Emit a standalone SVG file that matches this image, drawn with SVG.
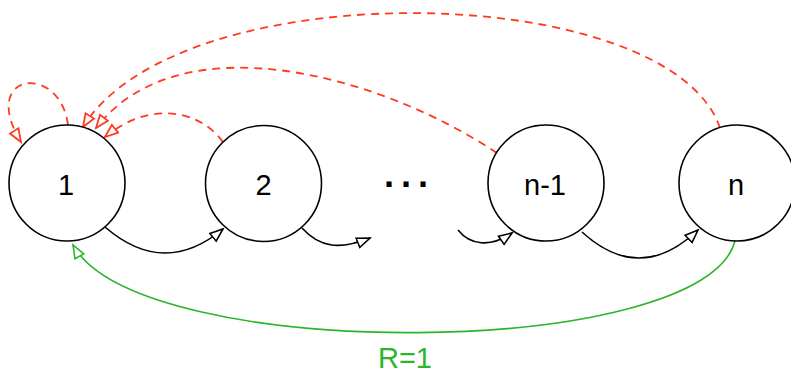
<svg xmlns="http://www.w3.org/2000/svg" width="791" height="374" viewBox="0 0 791 374">
<style>
.node circle{fill:#fff;stroke:#000;stroke-width:1.6}
.node text{font-family:"Liberation Sans",Arial,sans-serif;font-size:29px;fill:#000;text-anchor:middle}
.blk{fill:none;stroke:#000;stroke-width:1.6;marker-end:url(#ab)}
.red{fill:none;stroke:#ff3b1f;stroke-width:1.8;stroke-dasharray:8,6;marker-end:url(#ar)}
.grn{fill:none;stroke:#2cb52c;stroke-width:1.6;marker-end:url(#ag)}
.lbl{font-family:"Liberation Sans",Arial,sans-serif;font-size:29px;fill:#2cb52c;text-anchor:middle}
</style>
<defs>
<marker id="ab" markerUnits="userSpaceOnUse" markerWidth="16" markerHeight="14" refX="14" refY="6" orient="auto" viewBox="0 0 16 12"><path d="M1,1 L14,6 L1,11 Z" fill="#fff" stroke="#000" stroke-width="1.6"/></marker>
<marker id="ar" markerUnits="userSpaceOnUse" markerWidth="16" markerHeight="14" refX="14" refY="6" orient="auto" viewBox="0 0 16 12"><path d="M1,1 L14,6 L1,11 Z" fill="#fff" stroke="#ff3b1f" stroke-width="1.8"/></marker>
<marker id="ag" markerUnits="userSpaceOnUse" markerWidth="16" markerHeight="14" refX="14" refY="6" orient="auto" viewBox="0 0 16 12"><path d="M1,1 L14,6 L1,11 Z" fill="#fff" stroke="#2cb52c" stroke-width="1.6"/></marker>
</defs>
<g id="connectors">
<path class="blk" d="M105,227 Q164,278 223,229"/>
<path class="blk" d="M302,228 C320,248 340,250 370,238"/>
<path class="blk" d="M458,230 C470,245 490,248 512,233"/>
<path class="blk" d="M582,232 Q640,285 698,230"/>
<path class="red" d="M68,125 C60,62 -22,72 21,142"/>
<path class="red" d="M223,142 C200,110 150,100 105,137"/>
<path class="red" d="M497,153 C380,75 180,20 96,128"/>
<path class="red" d="M720,128 C670,-20 180,-30 83,127"/>
<path class="grn" d="M735,241 C705,360 140,365 73,245"/>
<text class="lbl" x="405" y="368">R=1</text>
</g>
<g id="node1" class="node"><circle cx="67" cy="183" r="58"/><text x="66" y="195">1</text></g>
<g id="node2" class="node"><circle cx="263.5" cy="183.5" r="58"/><text x="263.5" y="195">2</text></g>
<g id="dots"><text x="384" y="197" style="font-family:'Liberation Sans',Arial,sans-serif;font-size:36px;font-weight:bold;letter-spacing:5px">···</text></g>
<g id="node3" class="node"><circle cx="546" cy="183" r="58"/><text x="545" y="195">n-1</text></g>
<g id="node4" class="node"><circle cx="737" cy="183" r="58"/><text x="736" y="195">n</text></g>
</svg>
